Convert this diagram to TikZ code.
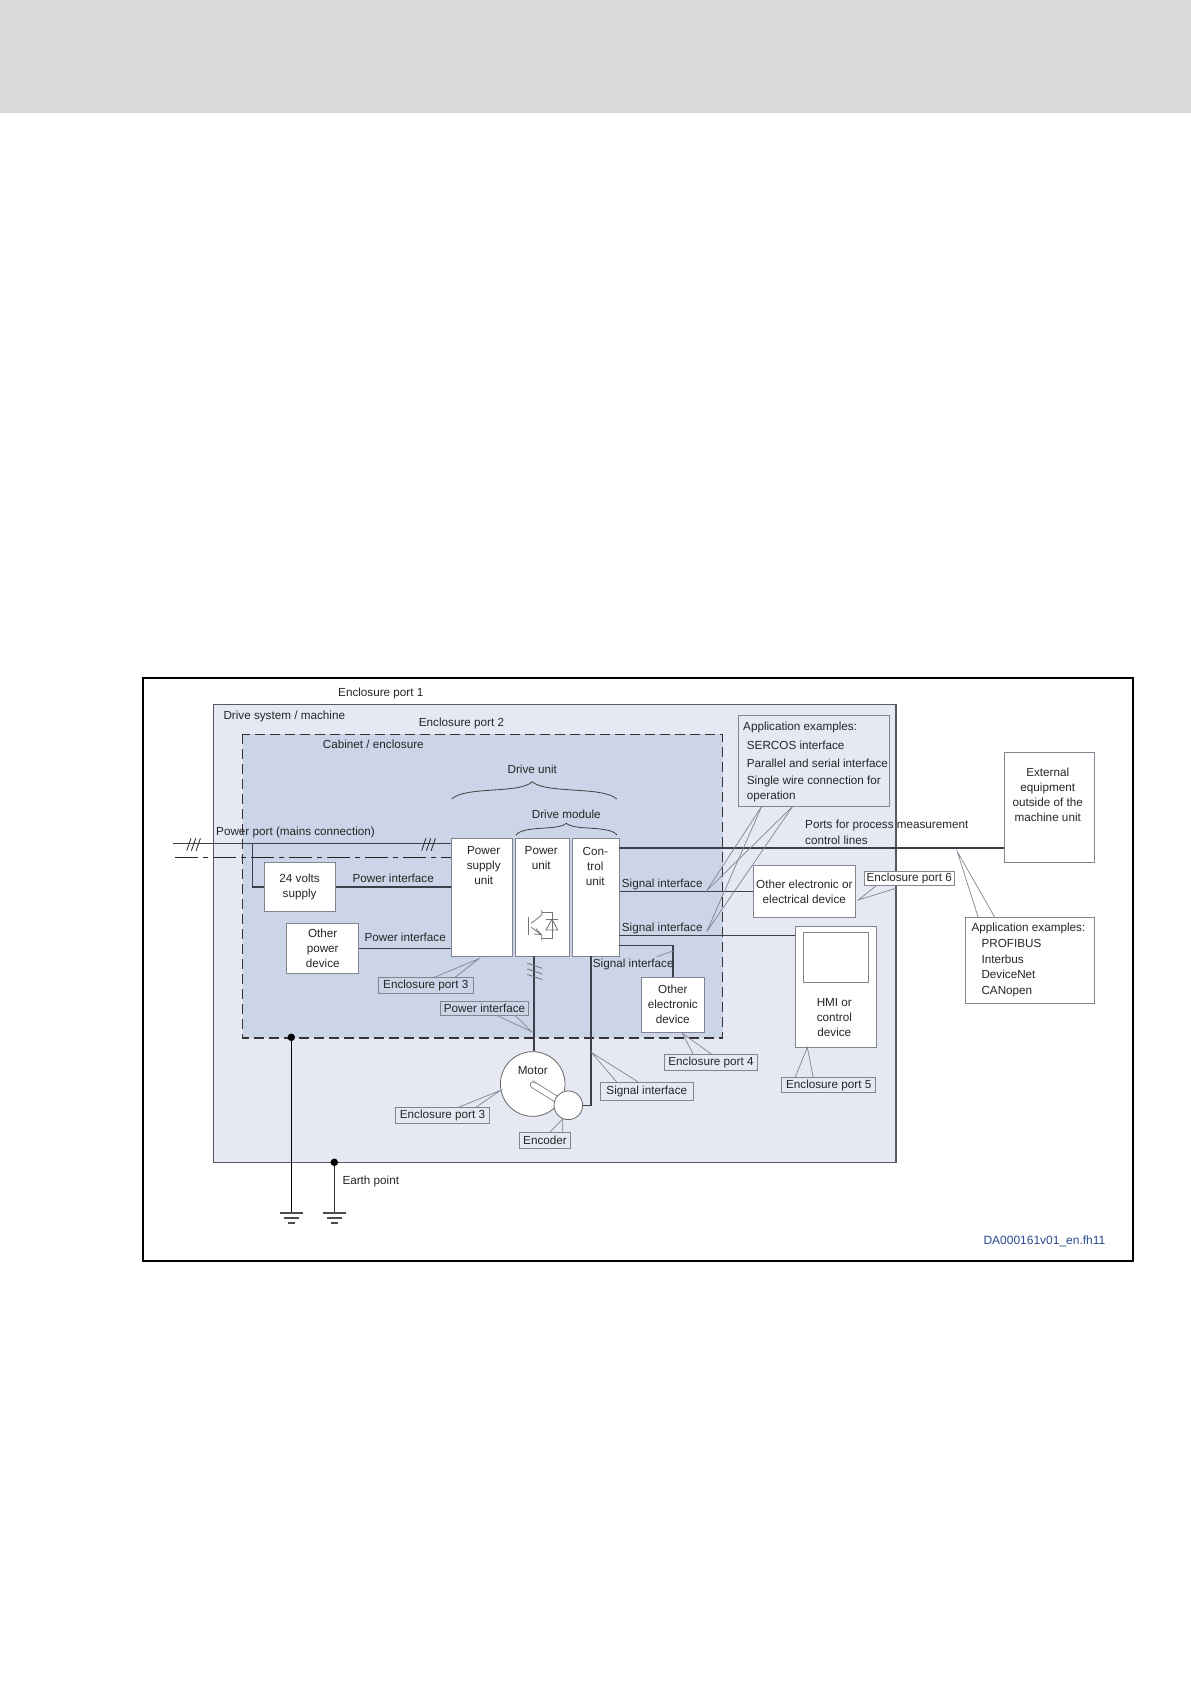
\documentclass[tikz,border=0pt]{standalone}
\usepackage{fontspec}
\usepackage{xcolor}
\usepackage{tikz}
\setmainfont{Liberation Sans}
\definecolor{bandgray}{HTML}{D9D9D9}
\definecolor{sysblue}{HTML}{E6E9F4}
\definecolor{cabblue}{HTML}{CBD5E7}
\definecolor{edgegray}{HTML}{80858F}
\definecolor{wirecol}{HTML}{3A3F4A}
\definecolor{codeblue}{HTML}{2A4A8A}
\tikzset{
  every node/.style={font=\fontsize{11.7}{15}\selectfont, text=black!85},
  txt/.style={anchor=west, inner sep=0pt, yshift=-1pt},
  mid/.style={inner sep=0pt, align=center, yshift=-1pt},
  whitebox/.style={draw=edgegray, fill=white, line width=0.9pt, inner sep=0pt, align=center},
  tagbox/.style={draw=edgegray, line width=0.8pt, inner sep=0pt},
  wire/.style={draw=wirecol, line width=1.4pt},
  callout/.style={draw=edgegray, line width=0.7pt},
  dot/.style={circle, fill=black, inner sep=0pt, minimum size=7.5pt},
  symb/.style={draw=black!55, line width=0.8pt}
}
\begin{document}
\begin{tikzpicture}[x=1pt, y=-1pt]
\useasboundingbox (0,0) rectangle (1191,1684);
\fill[white] (0,0) rectangle (1191,1684);
\fill[bandgray] (0,0) rectangle (1191,113);
\draw[line width=2pt] (142.7,677.7) rectangle (1132.7,1260.7);
\draw[fill=sysblue, draw=black!65, line width=1.4pt] (213.3,704.7) rectangle (896,1162.7);
\draw[fill=cabblue, draw=black!80, line width=1.3pt, dash pattern=on 10pt off 5pt] (242.7,734.3) rectangle (722.7,1038);
\node[txt] (port1) at (338,692.7) {Enclosure port 1};
\node[txt] (sysname) at (223.3,715.7) {Drive system / machine};
\node[txt] (port2) at (418.7,722.7) {Enclosure port 2};
\node[txt] (cabname) at (322.7,743.7) {Cabinet / enclosure};
\node[mid] (driveunit) at (532.3,768) {Drive unit};
\node[mid] (drivemod) at (566.3,813.7) {Drive module};
\draw[draw=black!75, line width=0.8pt] (451.7,799) .. controls (465,786) and (520,794) .. (532.3,781.7) .. controls (545,794) and (603,786) .. (616.7,799);
\draw[draw=black!75, line width=0.8pt] (516,835) .. controls (524,825) and (558,831) .. (566.3,823.3) .. controls (575,831) and (609,825) .. (617,835);
\node[txt] (powerport) at (216,831) {Power port (mains connection)};
\node[whitebox, minimum width=60.3pt, minimum height=117.6pt] (psu) at (481.85,897.5) {};
\node[whitebox, minimum width=54pt, minimum height=117.6pt] (punit) at (542.3,897.5) {};
\node[whitebox, minimum width=47pt, minimum height=117.6pt] (ctrl) at (595.8,897.5) {};
\node[mid] (psutxt) at (483.7,865) {Power\\supply\\unit};
\node[mid] (punittxt) at (541.3,857.5) {Power\\unit};
\node[mid] (ctrltxt) at (595.3,865) {Con-\\trol\\unit};
\node[whitebox, minimum width=71.3pt, minimum height=48.3pt] (supply) at (299.65,886.85) {24 volts\\supply};
\node[whitebox, minimum width=72pt, minimum height=50pt] (otherpow) at (322.7,948.3) {Other\\power\\device};
\node[whitebox, minimum width=102.7pt, minimum height=51.6pt] (otherel) at (804.35,891.5) {Other electronic or\\electrical device};
\node[whitebox, minimum width=63pt, minimum height=55pt] (othdev) at (672.8,1004.8) {Other\\electronic\\device};
\node[whitebox, minimum width=90.3pt, minimum height=110pt] (extern) at (1049.15,807.7) {};
\node[mid] (externtxt) at (1047.7,793.5) {External\\equipment\\outside of the\\machine unit};
\node[whitebox, minimum width=80.6pt, minimum height=121.3pt] (hmi) at (836,986.65) {};
\node[whitebox, minimum width=65.4pt, minimum height=50pt] (screen) at (836,957.3) {};
\node[mid] (hmitxt) at (834.3,1016.5) {HMI or\\control\\device};
\coordinate (mainl) at (173.3,843.7);
\coordinate (dashl) at (175,857.3);
\coordinate (tap) at (252.7,843.7);
\draw[wire] (mainl) -- (mainl -| psu.west);
\draw[draw=black!85, line width=1pt, dash pattern=on 23pt off 5pt on 5pt off 5pt] (dashl) -- (dashl -| psu.west);
\draw[wire] (tap) |- (supply.west);
\draw[wire] (supply.east) -- (supply.east -| psu.west);
\draw[wire] (otherpow.east) -- (otherpow.east -| psu.west);
\foreach \sx in {186.7,421.7} {
  \foreach \d in {0,4.7,9.4} {
    \draw[draw=black!85, line width=0.8pt] ({\sx+\d},850.7) -- ({\sx+\d+4.3},838.3);
  }
}
\node[txt] (pif1) at (352.3,877) {Power interface};
\node[txt] (pif2) at (364.3,936.7) {Power interface};
\coordinate (sigtop) at (619.3,848);
\coordinate (sighmi) at (619.3,935.7);
\coordinate (sigoth) at (619.3,945.7);
\draw[wire] (sigtop) -- (sigtop -| extern.west);
\draw[wire] (otherel.west -| ctrl.east) -- (otherel.west);
\draw[wire] (sighmi) -- (sighmi -| hmi.west);
\draw[wire] (sigoth) -| (othdev.north);
\node[txt] (sif1) at (621.7,883.3) {Signal interface};
\node[txt] (sif2) at (621.7,927) {Signal interface};
\node[txt] (sif3) at (592.7,963.7) {Signal interface};
\coordinate (sif3a) at (656.7,956.7);
\coordinate (sif3b) at (674,950.7);
\draw[callout] (sif3a) -- (sif3b);
\node[txt] (ports) at (805,824) {Ports for process measurement};
\node[txt] (ctrllines) at (805,839) {control lines};
\node[circle, draw=black!60, fill=white, line width=0.8pt, inner sep=0pt, minimum size=64.6pt] (motor) at (532.7,1084) {};
\coordinate (motl) at (534,956.3);
\coordinate (encl) at (591,956.3);
\draw[wire] (motl) -- (motl |- motor.north);
\foreach \y in {963.3,969,974.5} {
  \draw[symb] (527.3,\y) -- (542.3,{\y+5});
}
\node[mid] (motortxt) at (532.7,1069.3) {Motor};
\draw[draw=black!50, fill=white, line width=0.7pt] (534,1081.5) -- (558,1096.5) -- (555,1102) -- (531,1087) arc[start angle=225, end angle=45, radius=3pt] -- cycle;
\node[circle, draw=black!60, fill=white, line width=0.8pt, inner sep=0pt, minimum size=28.6pt] (encoder) at (568.3,1105.3) {};
\draw[wire] (encl) |- (encoder.east);
\draw[symb] (528,917) -- (528,935);
\draw[symb] (531.3,923.3) -- (541.7,915) -- (541.7,910);
\draw[symb] (541.7,912.7) -- (552.3,912.7) -- (552.3,938.3) -- (541.7,938.3);
\draw[symb] (531.3,927.3) -- (541.7,935) -- (541.7,940.7);
\draw[symb] (534,934) -- (541,934.5) -- (536,928.5);
\draw[symb] (546,930) -- (557.7,930) -- (552,919.3) -- cycle;
\draw[symb] (546,919.3) -- (557.7,919.3);
\node[tagbox, minimum width=95pt, minimum height=16pt] (tagpsu) at (425.8,985.3) {Enclosure port 3};
\coordinate (tippsu) at (479,958.7);
\draw[callout] (434.3,977.3) -- (tippsu) -- (455,977.3);
\node[tagbox, minimum width=87.6pt, minimum height=13.6pt] (tagpif) at (484.5,1008.5) {Power interface};
\coordinate (tippif) at (531.7,1031.7);
\draw[callout] (496.7,1015.3) -- (tippif) -- (515,1015.3);
\node[tagbox, minimum width=93.6pt, minimum height=15.7pt] (tagmot) at (442.5,1115.2) {Enclosure port 3};
\coordinate (tipmot) at (500.7,1090.3);
\draw[callout] (458.3,1107.3) -- (tipmot) -- (476,1107.3);
\node[tagbox, minimum width=51.4pt, minimum height=16pt] (tagenc) at (545,1140) {Encoder};
\coordinate (tipenc) at (562.7,1119);
\draw[callout] (550,1132) -- (tipenc) -- (562.7,1132);
\node[tagbox, minimum width=93pt, minimum height=18.3pt] (tagsif) at (646.8,1091.2) {Signal interface};
\coordinate (tipsif) at (591.7,1052.7);
\draw[callout] (616.7,1082) -- (tipsif) -- (638.3,1082);
\node[tagbox, minimum width=93.4pt, minimum height=16.4pt] (tag4) at (711,1062.5) {Enclosure port 4};
\coordinate (tip4) at (682.3,1033.3);
\draw[callout] (693.3,1054.3) -- (tip4) -- (711.7,1054.3);
\node[tagbox, minimum width=94pt, minimum height=14.6pt] (tag5) at (828.7,1085) {Enclosure port 5};
\coordinate (tip5) at (807.3,1047.3);
\draw[callout] (795,1077.7) -- (tip5) -- (813.3,1077.7);
\node[tagbox, fill=white, minimum width=89.7pt, minimum height=13.6pt] (tag6) at (909.2,878.5) {Enclosure port 6};
\coordinate (tip6) at (858.3,900);
\draw[callout] (876.7,885.3) -- (tip6) -- (896.7,888);
\node[tagbox, minimum width=151pt, minimum height=90.6pt] (appa) at (813.8,761) {};
\node[txt] (appatitle) at (743,726.7) {Application examples:};
\foreach \y/\t [count=\i] in {744/SERCOS interface, 762.3/Parallel and serial interface, 780/Single wire connection for, 795/operation} {
  \node[txt] (appa\i) at (746.7,\y) {\t};
}
\coordinate (tipsiga) at (706.7,890.7);
\coordinate (tipsigb) at (706.7,931.7);
\foreach \tip in {tipsiga,tipsigb} {
  \draw[callout] (761.7,806.3) -- (\tip) -- (792.7,806.3);
}
\node[tagbox, fill=white, minimum width=129pt, minimum height=85.6pt] (appb) at (1029.8,960.5) {};
\node[txt] (appbtitle) at (971.3,927) {Application examples:};
\foreach \y/\t [count=\i] in {942.7/PROFIBUS, 958/Interbus, 973.7/DeviceNet, 990.3/CANopen} {
  \node[txt] (appb\i) at (981.3,\y) {\t};
}
\coordinate (tipappb) at (957.3,851.7);
\draw[callout] (978.3,917.7) -- (tipappb) -- (995,917.7);
\node[dot] (earthcab) at (291.3,1037.3) {};
\node[dot] (earthsys) at (334.3,1162.3) {};
\coordinate (gnda) at (291.3,1213);
\coordinate (gndb) at (334.3,1213);
\draw[draw=black, line width=1pt] (earthcab) -- (gnda);
\draw[draw=black!80, line width=1pt] (earthsys) -- (gndb);
\foreach \g in {gnda,gndb} {
  \draw[draw=black!70, line width=1.1pt] ([xshift=-11.5pt]\g) -- ([xshift=11.5pt]\g);
  \draw[draw=black!70, line width=1.1pt] ([xshift=-7.5pt,yshift=-5pt]\g) -- ([xshift=7.5pt,yshift=-5pt]\g);
  \draw[draw=black!70, line width=1.1pt] ([xshift=-3.5pt,yshift=-10pt]\g) -- ([xshift=3.5pt,yshift=-10pt]\g);
}
\node[txt] (earthtxt) at (342.3,1180) {Earth point};
\node[txt, text=codeblue, font=\fontsize{12}{15}\selectfont] (drawcode) at (983.3,1240.7) {DA000161v01\_en.fh11};
\end{tikzpicture}
\end{document}
